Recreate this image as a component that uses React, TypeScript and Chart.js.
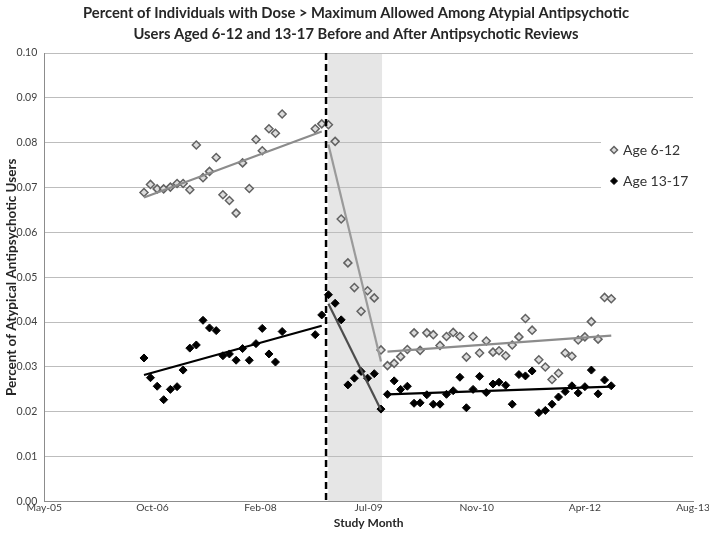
import React, { useEffect, useRef } from "react";
import { Chart, registerables } from "chart.js";

Chart.register(...registerables);

const TITLE = [
  "Percent of Individuals with Dose > Maximum Allowed Among Atypial Antipsychotic",
  "Users Aged 6-12 and 13-17 Before and After Antipsychotic Reviews",
];
const Y_TITLE = "Percent of Atypical Antipsychotic Users";
const X_TITLE = "Study Month";

const MONTHS = [
  "2006-09", "2006-10", "2006-11", "2006-12",
  "2007-01", "2007-02", "2007-03", "2007-04", "2007-05", "2007-06", "2007-07", "2007-08", "2007-09", "2007-10", "2007-11", "2007-12",
  "2008-01", "2008-02", "2008-03", "2008-04", "2008-05", "2008-06", "2008-07", "2008-08", "2008-09", "2008-10", "2008-11", "2008-12",
  "2009-01", "2009-02", "2009-03", "2009-04", "2009-05", "2009-06", "2009-07", "2009-08", "2009-09", "2009-10", "2009-11", "2009-12",
  "2010-01", "2010-02", "2010-03", "2010-04", "2010-05", "2010-06", "2010-07", "2010-08", "2010-09", "2010-10", "2010-11", "2010-12",
  "2011-01", "2011-02", "2011-03", "2011-04", "2011-05", "2011-06", "2011-07", "2011-08", "2011-09", "2011-10", "2011-11", "2011-12",
  "2012-01", "2012-02", "2012-03", "2012-04", "2012-05", "2012-06", "2012-07", "2012-08",
];

const AGE_6_12: (number | null)[] = [
  0.0689, 0.0707, 0.0697, 0.0697,
  0.0701, 0.0709, 0.0709, 0.0695, 0.0795, 0.0722, 0.0736, 0.0767, 0.0684, 0.0671, 0.0643, 0.0755,
  0.0698, 0.0807, 0.0782, 0.0831, 0.0821, 0.0864, null, null, null, null, 0.0831, 0.0842,
  0.0840, 0.0803, 0.0630, 0.0532, 0.0477, 0.0424, 0.0470, 0.0454, 0.0338, 0.0303, 0.0308, 0.0323,
  0.0339, 0.0376, 0.0337, 0.0376, 0.0372, 0.0348, 0.0368, 0.0377, 0.0368, 0.0322, 0.0368, 0.0331,
  0.0358, 0.0333, 0.0336, 0.0325, 0.0349, 0.0367, 0.0408, 0.0382, 0.0316, 0.0300, 0.0272, 0.0286,
  0.0331, 0.0324, 0.0360, 0.0367, 0.0401, 0.0362, 0.0455, 0.0452,
];

const AGE_13_17: (number | null)[] = [
  0.0320, 0.0276, 0.0257, 0.0227,
  0.0250, 0.0256, 0.0293, 0.0342, 0.0349, 0.0404, 0.0387, 0.0381, 0.0325, 0.0329, 0.0315, 0.0341,
  0.0315, 0.0352, 0.0386, 0.0329, 0.0311, 0.0379, null, null, null, null, 0.0372, 0.0416,
  0.0461, 0.0442, 0.0405, 0.0260, 0.0275, 0.0290, 0.0275, 0.0285, 0.0206, 0.0239, 0.0269, 0.0250,
  0.0257, 0.0219, 0.0220, 0.0238, 0.0217, 0.0217, 0.0239, 0.0247, 0.0277, 0.0209, 0.0250, 0.0279,
  0.0243, 0.0262, 0.0266, 0.0259, 0.0217, 0.0283, 0.0280, 0.0291, 0.0198, 0.0203, 0.0217, 0.0233,
  0.0245, 0.0258, 0.0242, 0.0256, 0.0293, 0.0240, 0.0271, 0.0258,
];

// Trend line periods (start month, end month) and fitted endpoint values
const PRE_PERIOD = ["2006-09", "2008-12"];
const REVIEW_PERIOD = ["2009-01", "2009-09"];
const POST_PERIOD = ["2009-10", "2012-08"];

const TREND_6_12_PRE = [0.0678, 0.0825];
const TREND_6_12_REVIEW = [0.0796, 0.0312];
const TREND_6_12_POST = [0.0334, 0.0370];
const TREND_13_17_PRE = [0.0282, 0.0392];
const TREND_13_17_REVIEW = [0.0441, 0.0204];
const TREND_13_17_POST = [0.0239, 0.0256];

// Review markers (Excel date serials)
const INTERVENTION_DATE = 39803; // dashed line
const REVIEW_BAND = [39813, 40062]; // shaded band

const X_TICK_VALUES = [38500, 39000, 39500, 40000, 40500, 41000, 41500];
const X_TICK_LABELS = ["May-05", "Oct-06", "Feb-08", "Jul-09", "Nov-10", "Apr-12", "Aug-13"];
const Y_MIN = 0;
const Y_MAX = 0.1;
const Y_STEP = 0.01;

const LEGEND_LABELS = ["Age 6-12", "Age 13-17"];

const FONT = "Lato, 'Open Sans', sans-serif";

function serial(m: string): number {
  const [y, mo] = m.split("-").map(Number);
  return (Date.UTC(y, mo - 1, 1) - Date.UTC(1899, 11, 30)) / 86400000;
}

function pts(values: (number | null)[]) {
  return MONTHS.map((m, i) => ({ x: serial(m), y: values[i] }));
}

function trend(period: string[], vals: number[]) {
  return [
    { x: serial(period[0]), y: vals[0] },
    { x: serial(period[1]), y: vals[1] },
  ];
}

const hollowStyle = {
  pointStyle: "rectRot" as const,
  pointRadius: 4,
  pointHoverRadius: 4,
  pointBorderWidth: 1.5,
  pointBorderColor: "#626262",
  pointBackgroundColor: "#dcdcdc",
};
const solidStyle = {
  pointStyle: "rectRot" as const,
  pointRadius: 4,
  pointHoverRadius: 4,
  pointBorderWidth: 1,
  pointBorderColor: "#000000",
  pointBackgroundColor: "#000000",
};

function lineDs(data: { x: number; y: number }[], color: string) {
  return {
    type: "line" as const,
    data,
    borderColor: color,
    borderWidth: 2.2,
    pointRadius: 0,
    fill: false,
    showLine: true,
  };
}

const overlayPlugin = {
  id: "overlay",
  beforeDraw(chart: any) {
    const { ctx, chartArea, scales } = chart;
    const x0 = scales.x.getPixelForValue(REVIEW_BAND[0]);
    const x1 = scales.x.getPixelForValue(REVIEW_BAND[1]);
    ctx.save();
    ctx.fillStyle = "#e6e6e6";
    ctx.fillRect(x0, chartArea.top, x1 - x0, chartArea.bottom - chartArea.top);
    ctx.restore();
  },
  afterDatasetsDraw(chart: any) {
    const { ctx, chartArea, scales } = chart;
    const xd = scales.x.getPixelForValue(INTERVENTION_DATE);
    ctx.save();
    ctx.strokeStyle = "#000";
    ctx.lineWidth = 2.5;
    ctx.setLineDash([7, 4]);
    ctx.beginPath();
    ctx.moveTo(xd, chartArea.top);
    ctx.lineTo(xd, chartArea.bottom);
    ctx.stroke();
    ctx.setLineDash([]);

    // legend
    const bx = chartArea.right - 92;
    const by = chartArea.top + 66;
    ctx.fillStyle = "#ffffff";
    ctx.fillRect(bx, by, 92, 96);
    const items = [
      { y: by + 31, fill: "#dcdcdc", stroke: "#626262", lw: 1.5 },
      { y: by + 62, fill: "#000", stroke: "#000", lw: 1 },
    ];
    items.forEach((it, i) => {
      const mx = bx + 13;
      const r = 3.5;
      ctx.beginPath();
      ctx.moveTo(mx, it.y - r);
      ctx.lineTo(mx + r, it.y);
      ctx.lineTo(mx, it.y + r);
      ctx.lineTo(mx - r, it.y);
      ctx.closePath();
      ctx.fillStyle = it.fill;
      ctx.fill();
      ctx.lineWidth = it.lw;
      ctx.strokeStyle = it.stroke;
      ctx.stroke();
      ctx.fillStyle = "#333333";
      ctx.font = `14px ${FONT}`;
      ctx.textAlign = "left";
      ctx.textBaseline = "middle";
      ctx.fillText(LEGEND_LABELS[i], bx + 22, it.y);
    });
    ctx.restore();
  },
  afterDraw(chart: any) {
    const { ctx } = chart;
    ctx.save();
    ctx.fillStyle = "#262626";
    ctx.font = `bold 14.75px ${FONT}`;
    ctx.textAlign = "center";
    ctx.textBaseline = "middle";
    TITLE.forEach((line, i) => ctx.fillText(line, 356, 13 + i * 21));
    ctx.restore();
  },
};

export default function App() {
  const ref = useRef<HTMLCanvasElement | null>(null);

  useEffect(() => {
    if (!ref.current) return;
    const chart = new Chart(ref.current, {
      type: "scatter",
      data: {
        datasets: [
          lineDs(trend(PRE_PERIOD, TREND_6_12_PRE), "#8c8c8c"),
          lineDs(trend(REVIEW_PERIOD, TREND_6_12_REVIEW), "#9a9a9a"),
          lineDs(trend(POST_PERIOD, TREND_6_12_POST), "#8c8c8c"),
          lineDs(trend(PRE_PERIOD, TREND_13_17_PRE), "#000000"),
          lineDs(trend(REVIEW_PERIOD, TREND_13_17_REVIEW), "#4d4d4d"),
          lineDs(trend(POST_PERIOD, TREND_13_17_POST), "#000000"),
          { type: "scatter" as const, data: pts(AGE_6_12), ...hollowStyle },
          { type: "scatter" as const, data: pts(AGE_13_17), ...solidStyle },
        ] as any,
      },
      options: {
        animation: false,
        responsive: false,
        devicePixelRatio: 1,
        layout: { padding: { left: 0, right: 16, top: 53, bottom: 0 } },
        plugins: {
          legend: { display: false },
          tooltip: { enabled: false },
          title: { display: false },
        },
        scales: {
          x: {
            type: "linear",
            min: X_TICK_VALUES[0],
            max: X_TICK_VALUES[X_TICK_VALUES.length - 1],
            afterBuildTicks(scale: any) {
              scale.ticks = X_TICK_VALUES.map((v) => ({ value: v }));
            },
            afterFit(scale: any) {
              scale.height = 37.5;
              scale.paddingLeft = 0;
              scale.paddingRight = 0;
            },
            ticks: {
              autoSkip: false,
              maxRotation: 0,
              padding: 0,
              color: "#404040",
              font: { family: FONT, size: 10.3 },
              callback: (v: any) => {
                const i = X_TICK_VALUES.indexOf(Number(v));
                return i >= 0 ? X_TICK_LABELS[i] : "";
              },
            },
            grid: { display: false, drawTicks: false },
            border: { display: true, color: "#8c8c8c", width: 1 },
            title: {
              display: true,
              text: X_TITLE,
              color: "#262626",
              font: { family: FONT, size: 12, weight: "bold", lineHeight: 1.2 },
              padding: { top: 0, bottom: 8.8 },
            },
          },
          y: {
            min: Y_MIN,
            max: Y_MAX,
            afterFit(scale: any) {
              scale.width = 44.3;
              scale.paddingTop = 0;
              scale.paddingBottom = 0;
            },
            ticks: {
              stepSize: Y_STEP,
              padding: 7,
              color: "#404040",
              font: { family: FONT, size: 10.5 },
              callback: (v: any) => Number(v).toFixed(2),
            },
            grid: { color: "#bdbdbd", lineWidth: 1, drawTicks: false },
            border: { display: true, color: "#8c8c8c", width: 1 },
            title: {
              display: true,
              text: Y_TITLE,
              color: "#262626",
              font: { family: FONT, size: 13.5, weight: "bold", lineHeight: 1.2 },
              padding: { top: 3.6, bottom: 0 },
            },
          },
        },
      },
      plugins: [overlayPlugin],
    });
    return () => chart.destroy();
  }, []);

  return (
    <div style={{ position: "absolute", left: 0, top: 0, width: 709, height: 539, background: "#fff" }}>
      <canvas ref={ref} width={709} height={539} />
    </div>
  );
}
